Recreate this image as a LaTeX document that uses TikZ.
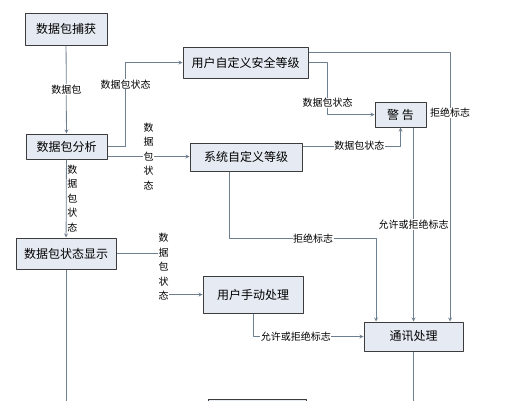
\documentclass[tikz,border=0pt]{standalone}
\usepackage{fontspec}
\newfontfamily\cjk{Noto Sans CJK SC}
\definecolor{boxfill}{HTML}{E6EBF3}
\definecolor{boxline}{HTML}{3C3C3C}
\definecolor{connline}{HTML}{6E7F8F}
\tikzset{
  box/.style={draw=boxline, fill=boxfill, line width=1pt, inner sep=0pt, font=\cjk\fontsize{12}{14}\selectfont},
  conn/.style={draw=connline, line width=.8pt},
  lbl/.style={fill=white, inner sep=.5pt, text=black, font=\cjk\fontsize{10}{12}\selectfont},
  lblv/.style={lbl, align=center, font=\cjk\fontsize{10}{14.5}\selectfont}
}
\begin{document}
\begin{tikzpicture}[x=1pt, y=-1pt, line join=round, >=stealth]
	\useasboundingbox (0,0) rectangle (511,400);
	% boxes
	\node[box, minimum width=82pt, minimum height=32pt] (cap) at (66,29) {数据包捕获};
	\node[box, minimum width=125pt, minimum height=31pt] (usr) at (245.5,62.5) {用户自定义安全等级};
	\node[box, minimum width=81pt, minimum height=25pt] (ana) at (66.5,146.5) {数据包分析};
	\node[box, minimum width=112pt, minimum height=28pt] (sys) at (246,157) {系统自定义等级};
	\node[box, minimum width=51pt, minimum height=25pt] (warn) at (400.5,114.5) {警\ 告};
	\node[box, minimum width=100pt, minimum height=31pt] (disp) at (66,253.5) {数据包状态显示};
	\node[box, minimum width=100pt, minimum height=37pt] (man) at (253,294.5) {用户手动处理};
	\node[box, minimum width=99pt, minimum height=29pt] (com) at (413.5,336.5) {通讯处理};
	\node[box, minimum width=98pt, minimum height=30pt] (next) at (257,414) {};
	\coordinate (dispEnd) at (66,402);
	\coordinate (comEnd) at (413.5,402);
	
	% connectors
	\draw[conn,->] (cap) -- node[lbl]{数据包} (ana);
	\draw[conn,->] (ana.east) -- ++(18,0) |- node[lbl, pos=.37]{数据包状态} (usr.west);
	\draw[conn,->] ([yshift=-10pt]ana.east) -- node[lblv]{数\\据\\包\\状\\态} ([yshift=-10pt]ana.east -| sys.west);
	\draw[conn,->] (ana) -- node[lblv, xshift=6pt]{数\\据\\包\\状\\态} (disp);
	\draw[conn,->] (disp.east) -- ++(47,0) |- node[lblv, pos=.165]{数\\据\\包\\状\\态} (man.west);
	\draw[conn,->] ([yshift=10.5pt]usr.east) -| node[lbl, pos=.613]{拒绝标志} ([xshift=36.5pt]com.north);
	\draw[conn,->] (usr.east) -- ++(19,0) |- node[lbl, pos=.39]{数据包状态} (warn.west);
	\draw[conn,->] ([yshift=11pt]sys.east) -| node[lbl, pos=.29]{数据包状态} (warn.south);
	\draw[conn,->] (warn.south -| com.north) -- node[lbl]{允许或拒绝标志} (com.north);
	\draw[conn,->] ([xshift=-17pt]sys.south) -- ++(0,67) -| node[lbl, pos=.286]{拒绝标志} ([xshift=-37.5pt]com.north);
	\draw[conn,->] (man.south) |- node[lbl, pos=.694]{允许或拒绝标志} (com.west);
	\draw[conn] (disp.south) -- (dispEnd);
	\draw[conn] (com.south) -- (comEnd);
	
\end{tikzpicture}
\end{document}
